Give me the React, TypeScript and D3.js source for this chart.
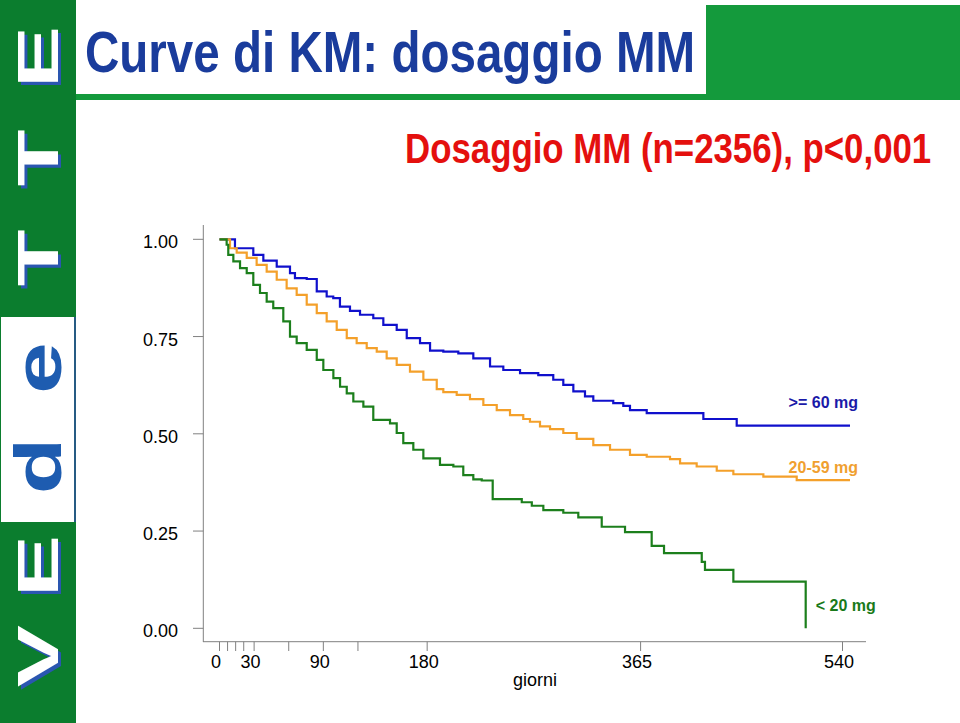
import React from "react";
import * as d3 from "d3";

// ---- data (days, survival) ----
const xTicks = [0, 7, 14, 21, 30, 60, 90, 120, 180, 365, 540];
const xLabels = [0, 30, 90, 180, 365, 540];
const yTicks = [0, 0.25, 0.5, 0.75, 1];

const groupNames = [">= 60 mg", "20-59 mg", "< 20 mg"];

const survHigh: [number, number][] = [
  [0, 1], [13.4, 0.977], [29.3, 0.96], [38, 0.945], [49.6, 0.93], [61.1, 0.913],
  [65.4, 0.9], [75.6, 0.898], [84.3, 0.866], [92.9, 0.853], [98.6, 0.849],
  [104.4, 0.827], [113.1, 0.816], [121.8, 0.806], [133.3, 0.797], [142, 0.78],
  [153.6, 0.767], [162.3, 0.746], [173.8, 0.733], [182.5, 0.714], [194, 0.711],
  [207, 0.707], [220, 0.694], [234.5, 0.673], [246, 0.664], [260.5, 0.656],
  [276.3, 0.651], [289.3, 0.639], [298, 0.626], [306.7, 0.609], [316.8, 0.596],
  [324, 0.585], [341.3, 0.579], [350, 0.572], [355.8, 0.561], [370.3, 0.553],
  [419.4, 0.538], [448.3, 0.521], [546.5, 0.521],
];

const survMid: [number, number][] = [
  [0, 1], [9.1, 0.977], [14.9, 0.966], [23.6, 0.952], [32.2, 0.934], [40.9, 0.917],
  [49.6, 0.896], [58.2, 0.874], [66.9, 0.857], [75.6, 0.832], [84.3, 0.81],
  [92.9, 0.789], [101.6, 0.767], [110.3, 0.746], [118.9, 0.733], [127.6, 0.72],
  [136.3, 0.711], [144.9, 0.694], [153.6, 0.677], [165.1, 0.66], [176.7, 0.639],
  [188.3, 0.615], [194, 0.607], [205.6, 0.6], [217.1, 0.589], [228.7, 0.574],
  [240.3, 0.561], [251.8, 0.548], [263.3, 0.538], [269.1, 0.531], [277.8, 0.519],
  [286.5, 0.512], [298, 0.502], [309.6, 0.487], [324, 0.471], [338.5, 0.459],
  [355.8, 0.446], [370.3, 0.441], [390.5, 0.435], [399.2, 0.424], [413.6, 0.416],
  [431, 0.405], [445.4, 0.396], [471.4, 0.39], [500.3, 0.381], [546.5, 0.381],
];

const survLow: [number, number][] = [
  [0, 1], [6.2, 0.986], [7.6, 0.96], [12, 0.943], [17.8, 0.926], [23.6, 0.913],
  [29.3, 0.883], [35.1, 0.862], [40.9, 0.84], [46.6, 0.823], [55.3, 0.789],
  [61.1, 0.75], [66.9, 0.733], [75.6, 0.716], [84.3, 0.69], [90, 0.664],
  [98.7, 0.643], [104.5, 0.621], [110.3, 0.604], [116, 0.583], [124.7, 0.57],
  [133.3, 0.536], [147.8, 0.527], [153.6, 0.502], [159.3, 0.476], [168, 0.459],
  [176.7, 0.437], [191.1, 0.42], [202.7, 0.416], [211.3, 0.394], [220, 0.383],
  [227.3, 0.38], [236.8, 0.332], [262, 0.324], [270.7, 0.315], [280.7, 0.304],
  [298, 0.297], [311, 0.285], [331.3, 0.261], [351.5, 0.247], [374.6, 0.212],
  [385.3, 0.193], [418, 0.171], [420.8, 0.15], [445.4, 0.12], [508.1, 0.0],
];

const series = [
  { name: groupNames[0], data: survHigh, color: "#1010cc", text: "#1a1aa8" },
  { name: groupNames[1], data: survMid, color: "#f4a02a", text: "#f0a030" },
  { name: groupNames[2], data: survLow, color: "#1c7f1c", text: "#1a7a1a" },
];

const logoLetters = ["E", "T", "T", "e", "d", "E", "V"];

export default function App() {
  const x = d3.scaleLinear().domain([0, 540]).range([219.5, 842.5]);
  const y = d3.scaleLinear().domain([0, 1]).range([628.3, 239.3]);
  const line = d3
    .line<[number, number]>()
    .x((d) => x(d[0]))
    .y((d) => y(d[1]))
    .curve(d3.curveStepAfter);

  const sideGreen = "#0b7d2e";
  const headGreen = "#149a3c";
  const logoY = [57, 158, 258, 368, 466, 566, 656];

  const lastHigh = survHigh[survHigh.length - 1];
  const lastMid = survMid[survMid.length - 1];
  const lastLow = survLow[survLow.length - 1];

  return (
    <svg
      width={960}
      height={723}
      style={{ position: "absolute", left: 0, top: 0, background: "#fff" }}
      fontFamily="Arial, 'Liberation Sans', sans-serif"
    >
      <rect x={0} y={0} width={960} height={723} fill="#fff" />
      {/* sidebar */}
      <rect x={0} y={0} width={76} height={723} fill={sideGreen} />
      <rect x={1} y={317} width={73} height={205} fill="#fff" />
      <line x1={75} x2={75} y1={317} y2={522} stroke="#3050a0" strokeWidth={1.5} />
      {logoLetters.map((l, i) => {
        const blueLetter = l === "d" || l === "e";
        return (
          <g key={i} transform={`translate(38,${logoY[i]}) rotate(-90)`}>
            {!blueLetter && (
              <text
                x={-2}
                y={3}
                textAnchor="middle"
                dominantBaseline="central"
                fontSize={58}
                fontWeight="bold"
                fill="#2a56b0"
                transform="scale(1.6,1)"
              >
                {l}
              </text>
            )}
            <text
              x={0}
              y={0}
              textAnchor="middle"
              dominantBaseline="central"
              fontSize={blueLetter ? 66 : 58}
              fontWeight="bold"
              fill={blueLetter ? "#1e5cb0" : "#ffffff"}
              transform={blueLetter ? "scale(1.4,1)" : "scale(1.6,1)"}
            >
              {l}
            </text>
          </g>
        );
      })}
      {/* header */}
      <rect x={706} y={5} width={254} height={90} fill={headGreen} />
      <rect x={76} y={94} width={884} height={6} fill={headGreen} />
      <text
        transform="translate(85,72) scale(0.82,1)"
        fontFamily="Arial, 'Liberation Sans', sans-serif"
        fontWeight="bold"
        fontSize={58}
        fill="#1a3c9c"
      >
        Curve di KM: dosaggio MM
      </text>
      <text
        transform="translate(405,163) scale(0.81,1)"
        fontFamily="Arial, 'Liberation Sans', sans-serif"
        fontWeight="bold"
        fontSize={43}
        fill="#e4100e"
      >
        Dosaggio MM (n=2356), p&lt;0,001
      </text>

      {/* axes */}
      <line x1={203.3} x2={203.3} y1={225} y2={642} stroke="#808080" strokeWidth={1} />
      <line x1={203} x2={866} y1={641.7} y2={641.7} stroke="#808080" strokeWidth={1} />
      {yTicks.map((t) => (
        <g key={t}>
          <line x1={193} x2={203.3} y1={y(t)} y2={y(t)} stroke="#808080" strokeWidth={1} />
          <text x={178} y={y(t) + 9} textAnchor="end" fontSize={18} fill="#000">
            {t.toFixed(2)}
          </text>
        </g>
      ))}
      {xTicks.map((t) => (
        <line key={t} x1={x(t)} x2={x(t)} y1={641.7} y2={651} stroke="#808080" strokeWidth={1} />
      ))}
      {xLabels.map((t) => (
        <text key={t} x={x(t) - 3.5} y={668} textAnchor="middle" fontSize={18} fill="#000">
          {t}
        </text>
      ))}
      <text x={535} y={686} textAnchor="middle" fontSize={18} fill="#000">
        giorni
      </text>

      {/* curves */}
      {series.map((s) => (
        <path
          key={s.name}
          d={line(s.data) || ""}
          fill="none"
          stroke={s.color}
          strokeWidth={2.2}
          strokeLinejoin="miter"
        />
      ))}

      {/* labels */}
      <text x={x(lastHigh[0]) + 8} y={y(lastHigh[1]) - 18} textAnchor="end" fontSize={16} fontWeight="bold" fill={series[0].text}>
        {groupNames[0]}
      </text>
      <text x={x(lastMid[0]) + 8} y={y(lastMid[1]) - 7} textAnchor="end" fontSize={16} fontWeight="bold" fill={series[1].text}>
        {groupNames[1]}
      </text>
      <text x={x(lastLow[0]) + 10} y={y(lastLow[1]) - 17} fontSize={16} fontWeight="bold" fill={series[2].text}>
        {groupNames[2]}
      </text>
    </svg>
  );
}
